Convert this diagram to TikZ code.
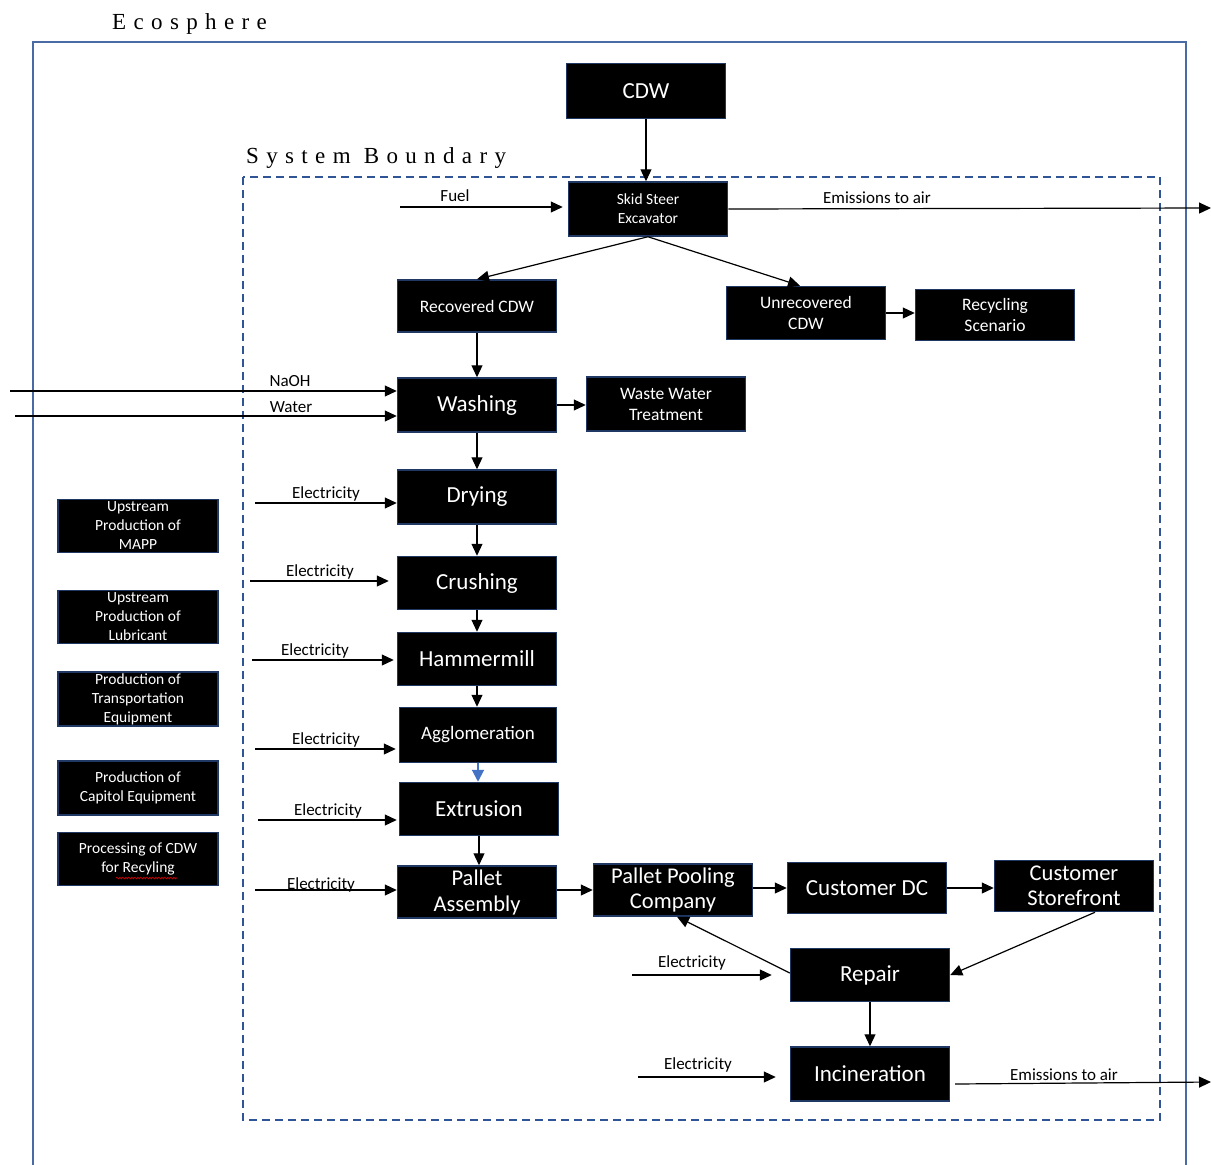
\documentclass[tikz,border=0pt]{standalone}
\usepackage{fontspec}
\setmainfont{Carlito}
\newfontfamily\spacedserif[LetterSpace=32]{Liberation Serif}
\usetikzlibrary{arrows.meta,decorations.pathmorphing}
\definecolor{frameblue}{HTML}{4A6AA5}
\definecolor{dashblue}{HTML}{2F5597}
\definecolor{edgeblue}{HTML}{1F3864}
\definecolor{tipblue}{HTML}{4472C4}

\begin{document}
\begin{tikzpicture}[x=1pt,y=-1pt,
  proc/.style={draw=edgeblue, line width=1.5pt, fill=black, text=white,
    minimum width=159pt, minimum height=53pt, inner sep=1pt, align=center,
    font=\fontsize{23}{25}\selectfont},
  procmid/.style={proc, font=\fontsize{17.5}{21}\selectfont},
  aux/.style={proc, minimum width=160pt, font=\fontsize{15.5}{19}\selectfont},
  flow/.style={line width=1.2pt, -{Triangle[length=12pt,width=11pt]}},
  lbl/.style={font=\fontsize{17}{20}\selectfont, inner sep=0pt, anchor=base},
  title/.style={font=\spacedserif\fontsize{23}{26}\selectfont, inner sep=0pt, anchor=base west}
]
\useasboundingbox (0,0) rectangle (1211,1165);
\clip (0,0) rectangle (1211,1165);

% frames
\draw[frameblue, line width=1.8pt] (33,1190) -- (33,42) -- (1186,42) -- (1186,1190);
\draw[dashblue, line width=1.8pt, dash pattern=on 8pt off 5pt] (243,177) rectangle (1160,1120);
\node[title] (eco) at (112,29) {Ecosphere};
\node[title] (sysb) at (246,163) {System Boundary};

% main process chain
\node[proc, minimum height=55pt] (cdw) at (646,91) {CDW};
\node[proc, minimum height=54pt, font=\fontsize{15.5}{19}\selectfont] (skid) at (648,209) {Skid Steer\\Excavator};
\node[procmid, minimum height=52pt] (rec) at (477,306) {Recovered CDW};
\node[procmid] (unrec) at (806,313) {Unrecovered\\CDW};
\node[procmid, minimum height=51pt] (recyc) at (995,315) {Recycling\\Scenario};
\node[proc, minimum height=54pt] (wash) at (477,405) {Washing};
\node[procmid, minimum height=54pt] (wwt) at (666,404) {Waste Water\\Treatment};
\node[proc, minimum height=54pt] (dry) at (477,497) {Drying};
\node[proc] (crush) at (477,583) {Crushing};
\node[proc] (hammer) at (477,659) {Hammermill};
\node[proc, minimum height=55pt, minimum width=157pt, font=\fontsize{19}{22}\selectfont] (agglo) at (478,735) {Agglomeration};
\node[proc] (extr) at (479,809) {Extrusion};
\node[proc, minimum height=52pt, font=\fontsize{22.5}{26}\selectfont] (pallet) at (477,892) {Pallet\\Assembly};
\node[proc, minimum height=52pt, font=\fontsize{22.5}{25}\selectfont] (pool) at (673,890) {Pallet Pooling\\Company};
\node[proc, minimum height=51pt] (cdc) at (867,888) {Customer DC};
\node[proc, minimum height=51pt, font=\fontsize{22.5}{25}\selectfont] (store) at (1074,886) {Customer\\Storefront};
\node[proc] (repair) at (870,975) {Repair};
\node[proc, minimum height=54pt] (incin) at (870,1074) {Incineration};

% upstream processes outside the system boundary
\node[aux] (mapp) at (138,526) {Upstream\\Production of\\MAPP};
\node[aux] (lub) at (138,617) {Upstream\\Production of\\Lubricant};
\node[aux, minimum height=54pt] (trans) at (138,699) {Production of\\Transportation\\Equipment};
\node[aux, minimum height=54pt] (capeq) at (138,788) {Production of\\Capitol Equipment};
\node[aux] (cdwproc) at (138,859) {Processing of CDW\\for Recyling};
% spell-check squiggle under the last word
\draw[red!80!black, line width=0.7pt, decorate, decoration={snake, amplitude=0.8pt, segment length=3pt}]
  (116,878) -- (177,878);

% excavation
\draw[flow] (cdw.south) -- (cdw.south |- skid.north);
\coordinate (fuelin) at (400,207);
\draw[flow] (fuelin) -- ([xshift=-5pt]skid.west |- fuelin);
\node[lbl] (fuellbl) at (455,201) {Fuel};
\coordinate (emisA) at (1211,208);
\draw[flow] (skid.east) -- (emisA);
\node[lbl] (emisAlbl) at (877,203) {Emissions to air};
\draw[flow] (skid.south) -- (rec.north);
\draw[flow] (skid.south) -- ([xshift=-6pt]unrec.north);
\draw[flow] (unrec.east) -- (unrec.east -| recyc.west);

% washing
\draw[flow] (rec.south) -- (wash.north);
\coordinate (naoh) at (10,391);
\draw[flow] (naoh) -- (naoh -| wash.west);
\node[lbl] (naohlbl) at (290,386) {NaOH};
\coordinate (water) at (15,416);
\draw[flow] (water) -- (water -| wash.west);
\node[lbl] (waterlbl) at (291,412) {Water};
\draw[flow] (wash.east) -- (wash.east -| wwt.west);

% processing chain
\draw[flow] (wash.south) -- (dry.north);
\draw[flow] (dry.south) -- (crush.north);
\draw[flow] (crush.south) -- (hammer.north);
\draw[flow] (hammer.south) -- (hammer.south |- agglo.north);
\draw[line width=2pt, tipblue, -{Triangle[length=12pt,width=12pt]}] (agglo.south) -- (agglo.south |- extr.north);
\draw[flow] (extr.south) -- (extr.south |- pallet.north);

% electricity inputs
\coordinate (e1) at (255,503);
\draw[flow] (e1) -- (e1 -| dry.west);
\node[lbl] (e1lbl) at (326,498) {Electricity};
\coordinate (e2) at (250,581);
\draw[flow] (e2) -- ([xshift=-8pt]e2 -| crush.west);
\node[lbl] (e2lbl) at (320,576) {Electricity};
\coordinate (e3) at (252,660);
\draw[flow] (e3) -- ([xshift=-3pt]e3 -| hammer.west);
\node[lbl] (e3lbl) at (315,655) {Electricity};
\coordinate (e4) at (255,749);
\draw[flow] (e4) -- ([xshift=-3pt]e4 -| agglo.west);
\node[lbl] (e4lbl) at (326,744) {Electricity};
\coordinate (e5) at (258,820);
\draw[flow] (e5) -- ([xshift=-2pt]e5 -| extr.west);
\node[lbl] (e5lbl) at (328,815) {Electricity};
\coordinate (e6) at (255,890);
\draw[flow] (e6) -- (e6 -| pallet.west);
\node[lbl] (e6lbl) at (321,889) {Electricity};

% distribution and end of life
\draw[flow] (pallet.east |- pool.west) -- (pool.west);
\draw[flow] (pool.east |- cdc.west) -- (cdc.west);
\draw[flow] (cdc.east) -- (cdc.east -| store.west);
\draw[flow] ([xshift=21pt]store.south) -- (repair.east);
\draw[flow] ([yshift=2pt]repair.west) -- ([xshift=4pt]pool.south);
\coordinate (e7) at (632,975);
\draw[flow] (e7) -- ([xshift=-18pt]e7 -| repair.west);
\node[lbl] (e7lbl) at (692,967) {Electricity};
\draw[flow] (repair.south) -- (incin.north);
\coordinate (e8) at (638,1077);
\draw[flow] (e8) -- ([xshift=-14pt]e8 -| incin.west);
\node[lbl] (e8lbl) at (698,1069) {Electricity};
\coordinate (incA) at (955,1084);
\coordinate (emisB) at (1211,1082);
\draw[flow] (incA) -- (emisB);
\node[lbl] (emisBlbl) at (1064,1080) {Emissions to air};
\end{tikzpicture}
\end{document}
